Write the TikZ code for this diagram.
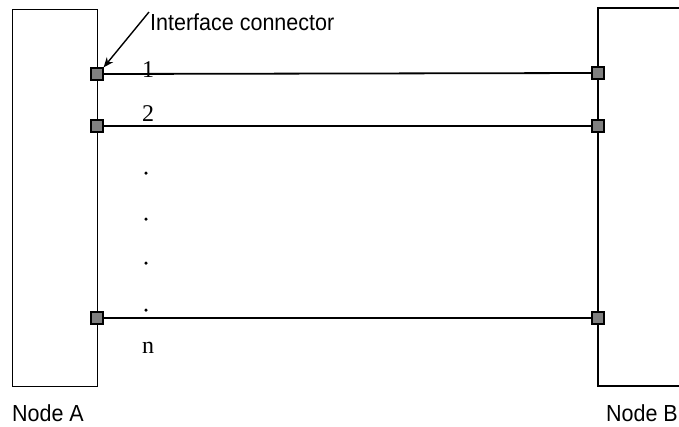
\documentclass[tikz,border=0pt]{standalone}
\usepackage{fontspec}
\setmainfont{Liberation Serif}
\newfontfamily\arialfont{Liberation Sans}
\usetikzlibrary{arrows.meta}
\begin{document}
\begin{tikzpicture}[x=1pt,y=-1pt,
  boxline/.style={draw=black,line width=1.4pt},
  conn/.style={draw=black,line width=1.2pt,fill=black!50,minimum size=12pt,inner sep=0pt,rectangle},
  wire/.style={draw=black,line width=1.8pt},
  sanslabel/.style={font=\arialfont\fontsize{21.5}{24}\selectfont,inner sep=0pt,yscale=1.08},
  seriflabel/.style={font=\fontsize{24}{26}\selectfont,inner sep=0pt},
  dotmark/.style={circle,fill=black,inner sep=0pt,minimum size=3.5pt}]
\useasboundingbox (0,0) rectangle (679,426);
% Node A box
\node[boxline,rectangle,minimum width=85pt,minimum height=377pt,inner sep=0pt,anchor=north west] (boxA) at (12,9) {};
% Node B box (cut off at right)
\coordinate (bTR) at (690,8);
\coordinate (bTL) at (598,8);
\coordinate (bBL) at (598,386);
\coordinate (bBR) at (690,386);
\draw[boxline] (bTR) -- (bTL) -- (bBL) -- (bBR);
% connectors
\node[conn] (a1) at (97,74) {};
\node[conn] (a2) at (97,126) {};
\node[conn] (an) at (97,318) {};
\node[conn] (b1) at (598,73) {};
\node[conn] (b2) at (598,126) {};
\node[conn] (bn) at (598,318) {};
\draw[wire] (a1) -- (b1);
\draw[wire] (a2) -- (b2);
\draw[wire] (an) -- (bn);
% labels on wires
\node[seriflabel] (l1) at (148,70) {1};
\node[seriflabel] (l2) at (148,114) {2};
\node[dotmark] (d1) at (146,173) {};
\node[dotmark] (d2) at (146,219) {};
\node[dotmark] (d3) at (146,263) {};
\node[dotmark] (d4) at (146,310) {};
\node[seriflabel] (ln) at (148,348) {n};
% interface connector annotation
\node[sanslabel,anchor=west] (ic) at (150,22) {Interface connector};
\coordinate (icstart) at (149,12);
\draw[line width=1.4pt,-{Stealth[length=10pt,width=8pt]}] (icstart) -- (a1.north east);
% node labels
\node[sanslabel] (na) at (48,413) {Node A};
\node[sanslabel] (nb) at (642,413) {Node B};
\end{tikzpicture}
\end{document}
